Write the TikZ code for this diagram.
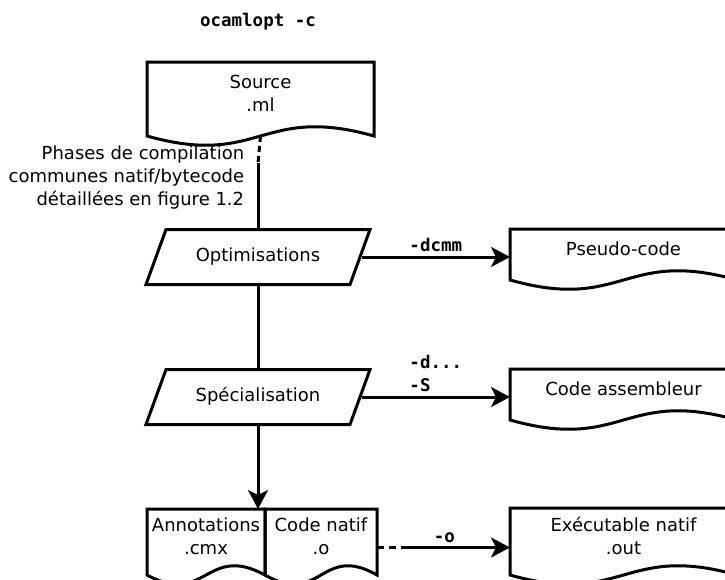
\documentclass[tikz,border=0pt]{standalone}
\usepackage{fontspec}
\setmainfont{DejaVu Sans}
\setmonofont{DejaVu Sans Mono}
\usetikzlibrary{shapes.geometric, arrows.meta, calc}

% outline of a document node, wavy bottom
\newcommand{\docoutline}[1]{%
  \draw (#1.south west) -- (#1.north west) -- (#1.north east) -- (#1.south east)
    .. controls ($(#1.south)+(0,-32)$) and ($(#1.south)+(0,32)$) .. cycle;}

\begin{document}
\begin{tikzpicture}[x=1pt, y=-1pt, line width=3pt, font=\fontsize{18}{23}\selectfont,
    proc/.style = {draw, trapezium, trapezium left angle=70, trapezium right angle=110,
                   text width=130pt, align=center, text height=13pt, text depth=4pt,
                   inner xsep=27pt, inner ysep=19pt},
    docu/.style = {rectangle, anchor=north west, align=center, inner sep=0pt,
                   text depth=12pt, minimum width=224pt},
    cmdflag/.style = {font=\fontsize{17.5}{23}\selectfont\ttfamily\bfseries},
    arr/.style = {-{Stealth[length=19pt, width=20pt, inset=5pt]}}]
        \clip (0,0) rectangle (725,579);

        \node[cmdflag] (title) at (258,22) {ocamlopt -c};

        \node[docu, minimum height=71pt] (src) at (147,62) {Source\\.ml};
        \node[proc] (optim) at (258,257) {Optimisations};
        \node[proc] (spec) at (258,397) {Spécialisation};

        \node[docu, minimum height=48pt] (pseudo) at (510,229) {Pseudo-code};
        \node[docu, minimum height=48pt] (asm) at (510,369) {Code assembleur};

        \node[docu, minimum width=115pt, minimum height=63pt] (annot) at (147,509) {Annotations\\.cmx};
        \node[docu, minimum width=109pt, minimum height=63pt] (natif) at (annot.north east) {Code natif\\.o};
        \node[docu, minimum height=64pt] (exe) at (510,508) {Exécutable natif\\.out};

        \docoutline{src}
        \docoutline{pseudo}
        \docoutline{asm}
        \docoutline{annot}
        \docoutline{natif}
        \docoutline{exe}

        \node[align=right, anchor=east] (phases) at (249,178)
            {Phases de compilation\\communes natif/bytecode\\détaillées en figure 1.2};

        % source -> optimisations
        \coordinate (brk) at (258,163);
        \draw[dash pattern=on 6pt off 4pt] (src.south) -- (brk);
        \draw (brk) -- (brk |- optim.north);
        \draw (optim.center |- optim.south) -- (spec.center |- spec.north);

        \draw[arr] (optim.east) -- (pseudo.west |- optim.east) node[midway, above, cmdflag] {-dcmm};
        \draw[arr] (spec.east) -- (asm.west |- spec.east)
            node[pos=0.29, anchor=south west, align=left, cmdflag] {-d...\\-S};
        \draw[arr] (spec.center |- spec.south) -- (spec.center |- annot.north);

        % native code -> executable
        \coordinate (o1) at ([yshift=-5.5pt]natif.east);
        \coordinate (o2) at ([xshift=29pt]o1);
        \draw[dash pattern=on 7pt off 5pt] (o1) -- (o2);
        \draw[arr] (o2) -- (exe.west |- o1) node[pos=0.37, above, cmdflag] {-o};
    \end{tikzpicture}
\end{document}
